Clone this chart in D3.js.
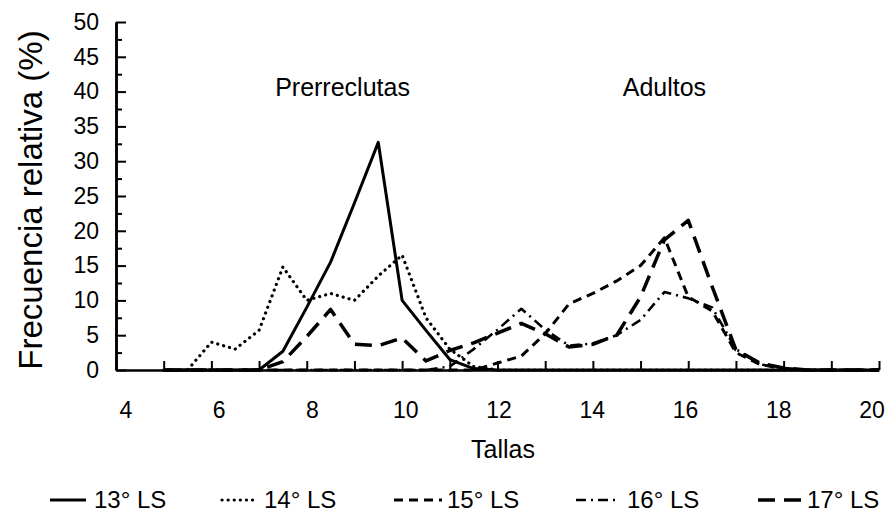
<!DOCTYPE html>
<html>
<head>
<meta charset="utf-8">
<script src="https://cdn.jsdelivr.net/npm/d3@7"></script>
<style>
  html, body { margin: 0; padding: 0; background: #fff; }
  svg text { font-family: "Liberation Sans", Arial, Helvetica, sans-serif; fill: #000; }
</style>
</head>
<body>
<svg id="chart" width="894" height="519"></svg>
<script>
// ---- data ----
const tallas = [5,5.5,6,6.5,7,7.5,8,8.5,9,9.5,10,10.5,11,11.5,12,12.5,13,13.5,14,14.5,15,15.5,16,16.5,17,17.5,18,18.5,19,19.5,20];
const ls13 = [0,0,0,0,0,2.7,9,15.5,24,32.7,10,5.7,1.5,0.2,0,0,0,0,0,0,0,0,0,0,0,0,0,0,0,0,0];
const ls14 = [0,0,4,3,5.7,14.8,10,11,10,13.5,16.5,7.5,3,0.5,0,0,0,0,0,0,0,0,0,0,0,0,0,0,0,0,0];
const ls15 = [0,0,0,0,0,0,0,0,0,0,0,0,0,0,1,2,5.2,9.5,11,12.8,15,19,10.5,8.5,2.5,0.8,0.2,0,0,0,0];
const ls16 = [0,0,0,0,0,0,0,0,0,0,0,0,0.5,3,5.8,8.8,5.8,3.5,3.8,5,7.2,11.2,10.3,9,3,0.8,0.3,0,0,0,0];
const ls17 = [0,0,0,0,0,1.2,4.8,8.7,3.7,3.5,4.6,1.3,2.8,3.9,5.3,6.7,5.2,3.3,3.7,5,10.5,18.7,21.5,12,2.9,1,0.3,0,0,0,0];
const seriesNames = ["13° LS","14° LS","15° LS","16° LS","17° LS"];
const xTickLabels = [4,6,8,10,12,14,16,18,20];
const yTickLabels = [0,5,10,15,20,25,30,35,40,45,50];
const groupLabels = ["Prerreclutas","Adultos"];
const groupCenters = [8.75, 15.5];

// ---- styles ----
const styles = [
  {dash: null, width: 3, cap: "butt", len: 36, gap: 8},
  {dash: "0.1 6", width: 3.2, cap: "round", len: 36, gap: 6},
  {dash: "9 6", width: 3, cap: "butt", len: 48, gap: 5},
  {dash: "10 5 2 5", width: 2.6, cap: "butt", len: 44, gap: 7},
  {dash: "17 9", width: 3.5, cap: "butt", len: 43, gap: 6}
];
const legendX = [50, 222, 394, 576, 758];

const svg = d3.select("#chart");
const x = d3.scaleLinear().domain([4, 20]).range([116, 879]);
const xLab = d3.scaleLinear().domain([4, 20]).range([126, 872]);
const y = d3.scaleLinear().domain([0, 50]).range([370, 22]);

// x axis
const gx = svg.append("g").attr("transform", `translate(0,${y(0)})`)
  .call(d3.axisBottom(x).tickValues(d3.range(4, 21, 1)).tickSize(-9).tickSizeOuter(0).tickFormat(""));
gx.select(".domain").attr("stroke-width", 2.5);
gx.selectAll(".tick line").attr("stroke-width", 2);

svg.append("g").selectAll("text").data(xTickLabels).join("text")
  .attr("x", d => xLab(d)).attr("y", 418)
  .attr("text-anchor", "middle").attr("font-size", 23).text(d => d);

// y axis minor
const gyMinor = svg.append("g").attr("transform", `translate(${x(4)},0)`)
  .call(d3.axisLeft(y).tickValues(d3.range(2.5, 50, 5)).tickSize(-6).tickSizeOuter(0).tickFormat(""));
gyMinor.select(".domain").attr("stroke-width", 2.5);
gyMinor.selectAll(".tick line").attr("stroke-width", 2);
// y axis major with labels
const gy = svg.append("g").attr("transform", `translate(${x(4)},0)`)
  .call(d3.axisLeft(y).tickValues(yTickLabels).tickSize(-10).tickSizeOuter(0).tickPadding(17));
gy.select(".domain").attr("stroke-width", 2.5);
gy.selectAll(".tick line").attr("stroke-width", 2);
gy.selectAll(".tick text").attr("font-size", 23).attr("font-family", "Liberation Sans, Arial, sans-serif");

// axis titles
svg.append("text").attr("x", 503).attr("y", 458).attr("text-anchor", "middle")
  .attr("font-size", 25).text("Tallas");
svg.append("text").attr("transform", `translate(42,200) rotate(-90)`)
  .attr("text-anchor", "middle").attr("font-size", 33).text("Frecuencia relativa  (%)");

// group labels
svg.append("g").selectAll("text").data(groupLabels).join("text")
  .attr("x", (d, i) => x(groupCenters[i])).attr("y", 96)
  .attr("text-anchor", "middle").attr("font-size", 25).text(d => d);

// lines
const allSeries = [ls13, ls14, ls15, ls16, ls17];
const line = d3.line().x(d => x(d[0])).y(d => y(d[1]));
allSeries.forEach((s, i) => {
  const pts = tallas.map((t, j) => [t, s[j]]);
  svg.append("path").datum(pts)
    .attr("d", line).attr("fill", "none").attr("stroke", "#000")
    .attr("stroke-width", styles[i].width)
    .attr("stroke-dasharray", styles[i].dash)
    .attr("stroke-linecap", styles[i].cap)
    .attr("stroke-linejoin", "round");
});

// legend
const lg = svg.append("g");
seriesNames.forEach((n, i) => {
  const g = lg.append("g").attr("transform", `translate(${legendX[i]},500)`);
  g.append("line").attr("x1", 0).attr("x2", styles[i].len).attr("y1", 0).attr("y2", 0)
    .attr("stroke", "#000").attr("stroke-width", styles[i].width)
    .attr("stroke-dasharray", styles[i].dash).attr("stroke-linecap", styles[i].cap);
  g.append("text").attr("x", styles[i].len + styles[i].gap).attr("y", 8).attr("font-size", 24).text(n);
});
</script>
</body>
</html>
